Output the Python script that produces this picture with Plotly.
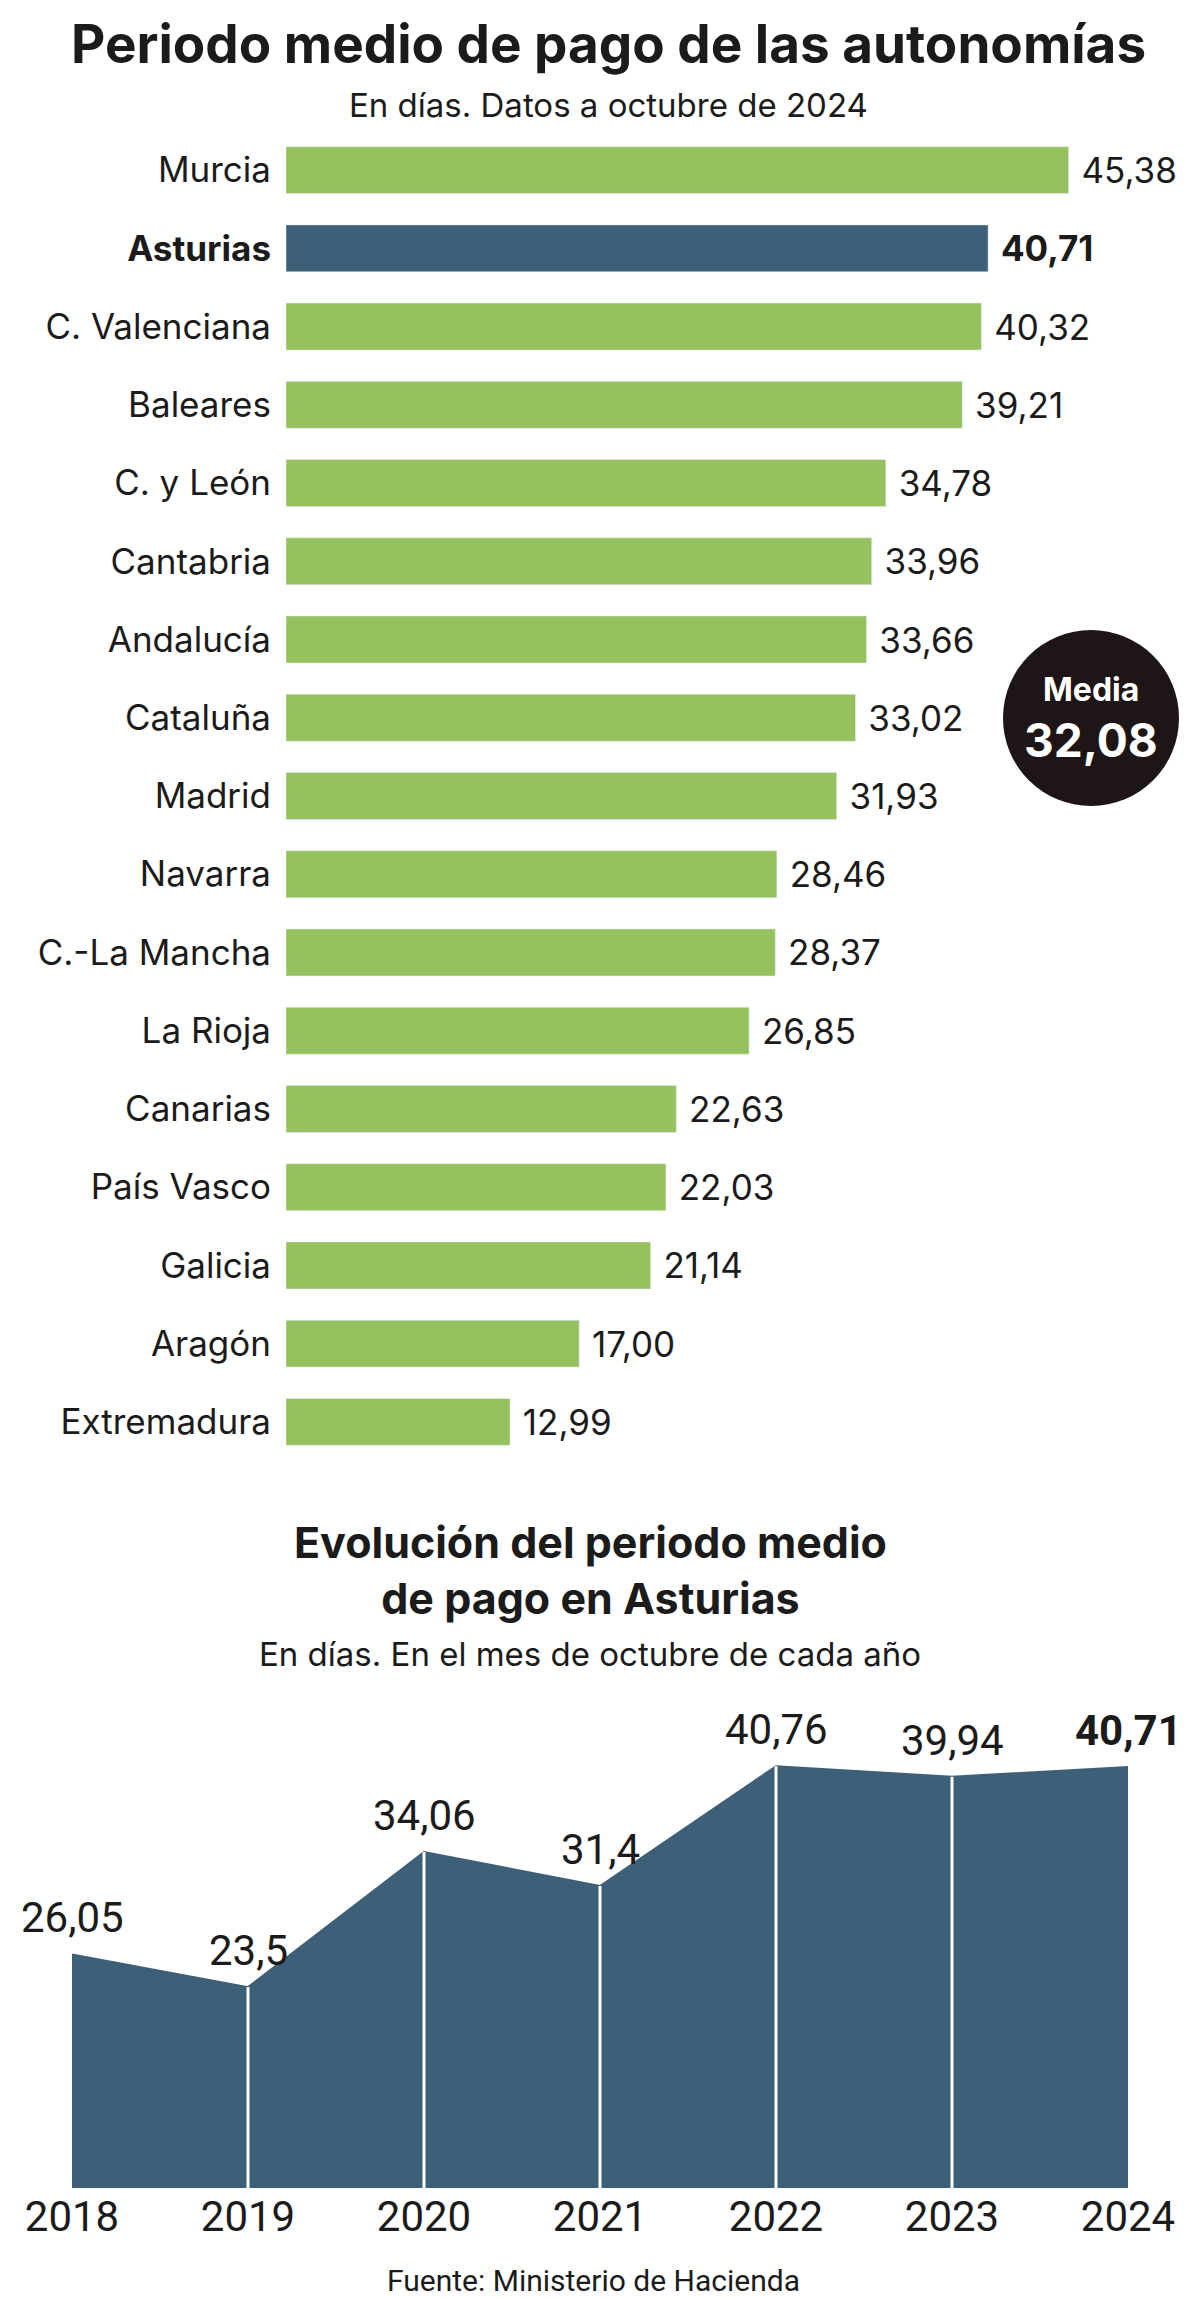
import plotly.graph_objects as go

# Periodo medio de pago por comunidad (días, octubre 2024)
regiones = ["Murcia", "Asturias", "C. Valenciana", "Baleares", "C. y León", "Cantabria",
            "Andalucía", "Cataluña", "Madrid", "Navarra", "C.-La Mancha", "La Rioja",
            "Canarias", "País Vasco", "Galicia", "Aragón", "Extremadura"]
dias = [45.38, 40.71, 40.32, 39.21, 34.78, 33.96, 33.66, 33.02, 31.93, 28.46, 28.37,
        26.85, 22.63, 22.03, 21.14, 17.00, 12.99]
destacada = "Asturias"
media = 32.08

# Evolución en Asturias
anios = [2018, 2019, 2020, 2021, 2022, 2023, 2024]
evol = [26.05, 23.5, 34.06, 31.4, 40.76, 39.94, 40.71]

VERDE = "#95c15f"
AZUL = "#3d5f78"
TXT = "#1b1b1b"
FONT = "Inter"
NARROW = "Liberation Sans Narrow, Roboto, sans-serif"
NB = "\u00a0"

def coma(v, dec=None):
    s = f"{v:.{dec}f}" if dec is not None else str(v)
    return s.replace(".", ",")

fig = go.Figure()

colores = [AZUL if r == destacada else VERDE for r in regiones]
textos = [NB + (f"<b>{coma(v, 2)}</b>" if r == destacada else coma(v, 2))
          for r, v in zip(regiones, dias)]
fig.add_trace(go.Bar(
    x=dias, y=regiones, orientation="h", marker_color=colores, width=0.6,
    text=textos, textposition="outside", cliponaxis=False,
    textfont=dict(size=35, color=TXT, family=FONT), xaxis="x", yaxis="y",
    hoverinfo="skip",
))

fig.add_trace(go.Scatter(
    x=anios, y=evol, mode="lines", line=dict(color=AZUL, width=2),
    fill="tozeroy", fillcolor=AZUL, cliponaxis=False,
    xaxis="x2", yaxis="y2", hoverinfo="skip",
))

shapes = []
ymin2 = 7.8
for a, v in zip(anios[1:-1], evol[1:-1]):
    shapes.append(dict(type="line", xref="x2", yref="y2", x0=a, x1=a, y0=ymin2, y1=v,
                       line=dict(color="white", width=3)))
# círculo de la media
shapes.append(dict(type="circle", xref="paper", yref="paper",
                   x0=(1083 - 88) / 1200, x1=(1083 + 88) / 1200,
                   y0=1 - (710 + 88) / 2298, y1=1 - (710 - 88) / 2298,
                   fillcolor="#1e1616", line=dict(width=0)))

ann = [
    dict(text="<b>Periodo medio de pago de las autonomías</b>", x=0.5, y=1 - 36 / 2298,
         font=dict(size=53, color=TXT, family=FONT, weight=800)),
    dict(text="En días. Datos a octubre de 2024", x=0.5, y=1 - 97 / 2298,
         font=dict(size=33, color=TXT, family=FONT)),
    dict(text="<b>Media</b>", x=1083 / 1200, y=1 - 682 / 2298,
         font=dict(size=32, color="white", family=FONT)),
    dict(text=f"<b>{coma(media, 2)}</b>", x=1083 / 1200, y=1 - 732 / 2298,
         font=dict(size=46, color="white", family=FONT)),
    dict(text="<b>Evolución del periodo medio<br>de pago en Asturias</b>", x=582 / 1200,
         y=1 - 1562 / 2298, font=dict(size=43, color=TXT, family=FONT)),
    dict(text="En días. En el mes de octubre de cada año", x=582 / 1200, y=1 - 1646 / 2298,
         font=dict(size=33, color=TXT, family=FONT)),
    dict(text="Fuente: Ministerio de Hacienda", x=585 / 1200, y=1 - 2272 / 2298,
         font=dict(size=30, color=TXT, family=NARROW)),
]
for a in ann:
    a.update(xref="paper", yref="paper", showarrow=False, xanchor="center", yanchor="middle")

# etiquetas de la evolución
for a, v in zip(anios, evol):
    ann.append(dict(x=a, y=v, xref="x2", yref="y2", showarrow=False, yanchor="bottom",
                    yshift=10, text=f"<b>{coma(v)}</b>" if a == anios[-1] else coma(v),
                    font=dict(size=42, color=TXT, family=NARROW)))

fig.update_layout(
    width=1200, height=2298, margin=dict(l=0, r=0, t=0, b=0),
    paper_bgcolor="white", plot_bgcolor="white", showlegend=False,
    font=dict(family=FONT, color=TXT), shapes=shapes, annotations=ann,
    xaxis=dict(domain=[278 / 1200, 0.979], range=[0, 52], visible=False, fixedrange=True,
               automargin=False),
    yaxis=dict(domain=[1 - 1453 / 2298, 1 - 123 / 2298], autorange="reversed",
               tickvals=regiones,
               ticktext=[f"<b>{r}</b>" if r == destacada else r for r in regiones],
               tickfont=dict(size=35, color=TXT, family=FONT), showline=False,
               ticks="", ticklabelstandoff=14, showgrid=False, automargin=False),
    xaxis2=dict(domain=[64 / 1200, 1120 / 1200], range=[anios[0], anios[-1]],
                tickvals=anios, tickfont=dict(size=42, color=TXT, family=NARROW),
                showgrid=False, showline=False, ticks="", anchor="y2", zeroline=False,
                automargin=False),
    yaxis2=dict(domain=[1 - 2180 / 2298, 1 - 1704 / 2298], range=[ymin2, 45],
                visible=False, anchor="x2", automargin=False),
)

fig.write_html("out.html")
